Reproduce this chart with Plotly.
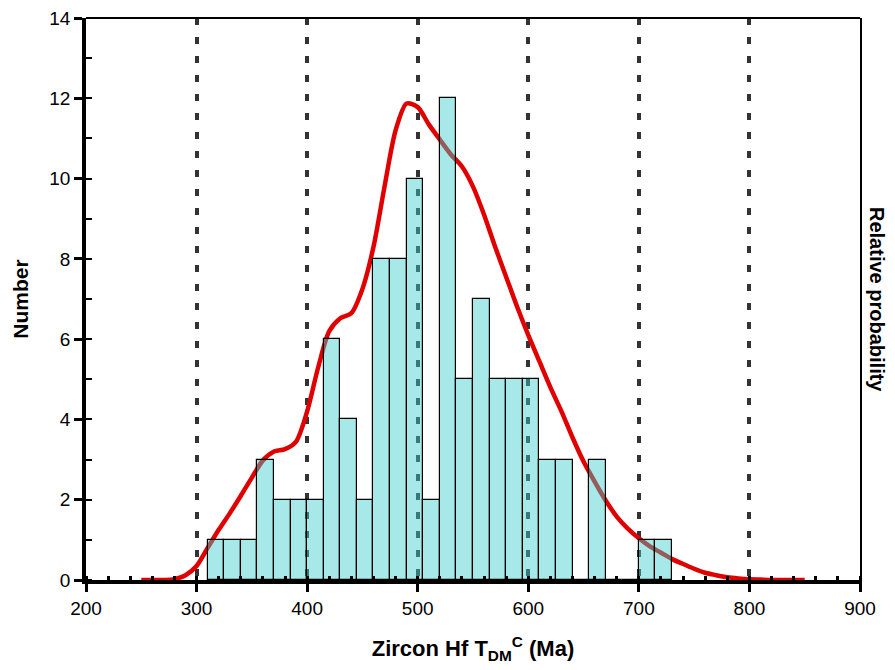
import plotly.graph_objects as go

# Histogram bins (Ma) and counts
bin_left = [310, 325, 340, 355, 370, 385, 400, 415, 430, 445, 460, 475, 490, 505,
            520, 535, 550, 565, 580, 595, 610, 625, 640, 655, 670, 685, 700, 715]
counts = [1, 1, 1, 3, 2, 2, 2, 6, 4, 2, 8, 8, 10, 2,
          12, 5, 7, 5, 5, 5, 3, 3, 0, 3, 0, 0, 1, 1]
bin_width = 15

# Relative probability curve (scaled to the count axis)
curve_x = [250, 260, 270, 280, 290, 300, 310, 320, 330, 340, 350, 360, 370, 380, 390,
           400, 410, 420, 430, 440, 450, 460, 470, 480, 490, 500, 510, 520, 530, 540,
           550, 560, 570, 580, 590, 600, 610, 620, 630, 640, 650, 660, 670, 680, 690,
           700, 710, 720, 730, 740, 750, 760, 770, 780, 790, 800, 810, 820, 830, 840, 850]
curve_y = [0, 0, 0, 0.02, 0.12, 0.35, 0.8, 1.25, 1.66, 2.1, 2.55, 2.98, 3.2, 3.26, 3.45,
           4.2, 5.3, 6.2, 6.52, 6.65, 7.25, 8.3, 9.8, 11.2, 11.87, 11.78, 11.35, 10.97, 10.6, 10.3,
           9.8, 9.1, 8.3, 7.55, 6.8, 6.1, 5.45, 4.8, 4.2, 3.55, 2.95, 2.45, 1.98, 1.58, 1.28,
           1.04, 0.84, 0.68, 0.52, 0.4, 0.28, 0.18, 0.12, 0.07, 0.04, 0.02, 0.01, 0, 0, 0, 0]

x_ticks = [200, 300, 400, 500, 600, 700, 800, 900]
y_ticks = [0, 2, 4, 6, 8, 10, 12, 14]

bin_centers = [b + bin_width / 2 for b in bin_left]

FONT = "Liberation Sans, Arial, sans-serif"

fig = go.Figure()

fig.add_trace(go.Scatter(
    x=curve_x, y=curve_y, mode="lines",
    line=dict(color="#E00000", width=4.5, shape="spline", smoothing=0.8),
    xaxis="x", yaxis="y", showlegend=False, hoverinfo="skip",
))

fig.add_trace(go.Bar(
    x=bin_centers, y=counts, width=bin_width,
    marker=dict(color="rgba(60,205,205,0.45)", line=dict(color="black", width=1.2)),
    xaxis="x", yaxis="y2", showlegend=False,
))

fig.update_layout(
    width=887, height=662,
    margin=dict(l=78, r=35, t=10, b=90),
    paper_bgcolor="white", plot_bgcolor="white",
    font=dict(family=FONT, size=19, color="black"),
    bargap=0,
    xaxis=dict(
        range=[200, 900], tickvals=x_ticks,
        ticks="outside", ticklen=8, tickwidth=2.5, tickcolor="black",
        minor=dict(dtick=20, tick0=200, ticks="inside", ticklen=4, tickwidth=2.5,
                   tickcolor="black", showgrid=False),
        showgrid=True, gridcolor="#333333", gridwidth=3.5, griddash="7px,12px",
        showline=True, linecolor="black", linewidth=3.5,
        zeroline=False, automargin=False, ticklabeloverflow="allow",
        tickfont=dict(size=19, family=FONT),
        title=dict(text="<b>Zircon Hf T<sub>DM</sub><sup>C</sup> (Ma)</b>",
                   font=dict(size=22, family=FONT), standoff=24),
        anchor="y2",
    ),
    yaxis=dict(
        range=[0, 14], side="right", showticklabels=False, ticks="",
        showgrid=False, zeroline=False, automargin=False,
        showline=True, linecolor="black", linewidth=1.5,
        anchor="x",
    ),
    yaxis2=dict(
        range=[0, 14], tickvals=y_ticks, overlaying="y", side="left",
        ticks="outside", ticklen=8, tickwidth=2.5, tickcolor="black",
        minor=dict(dtick=1, tick0=0, ticks="inside", ticklen=6, tickwidth=2,
                   tickcolor="black", showgrid=False),
        showgrid=False, zeroline=False, automargin=False, ticklabeloverflow="allow",
        showline=True, linecolor="black", linewidth=3.5,
        tickfont=dict(size=19, family=FONT),
        title=dict(text="<b>Number</b>", font=dict(size=21, family=FONT), standoff=16),
        anchor="x",
    ),
    shapes=[dict(type="line", xref="paper", yref="paper", x0=0, x1=1, y0=1, y1=1,
                 line=dict(color="black", width=2))],
    annotations=[dict(text="<b>Relative probability</b>", xref="paper", yref="paper",
                      x=1.0, xshift=17, y=0.5, textangle=90, showarrow=False,
                      font=dict(size=20, family=FONT), xanchor="center", yanchor="middle")],
)

fig.write_html("out.html")
